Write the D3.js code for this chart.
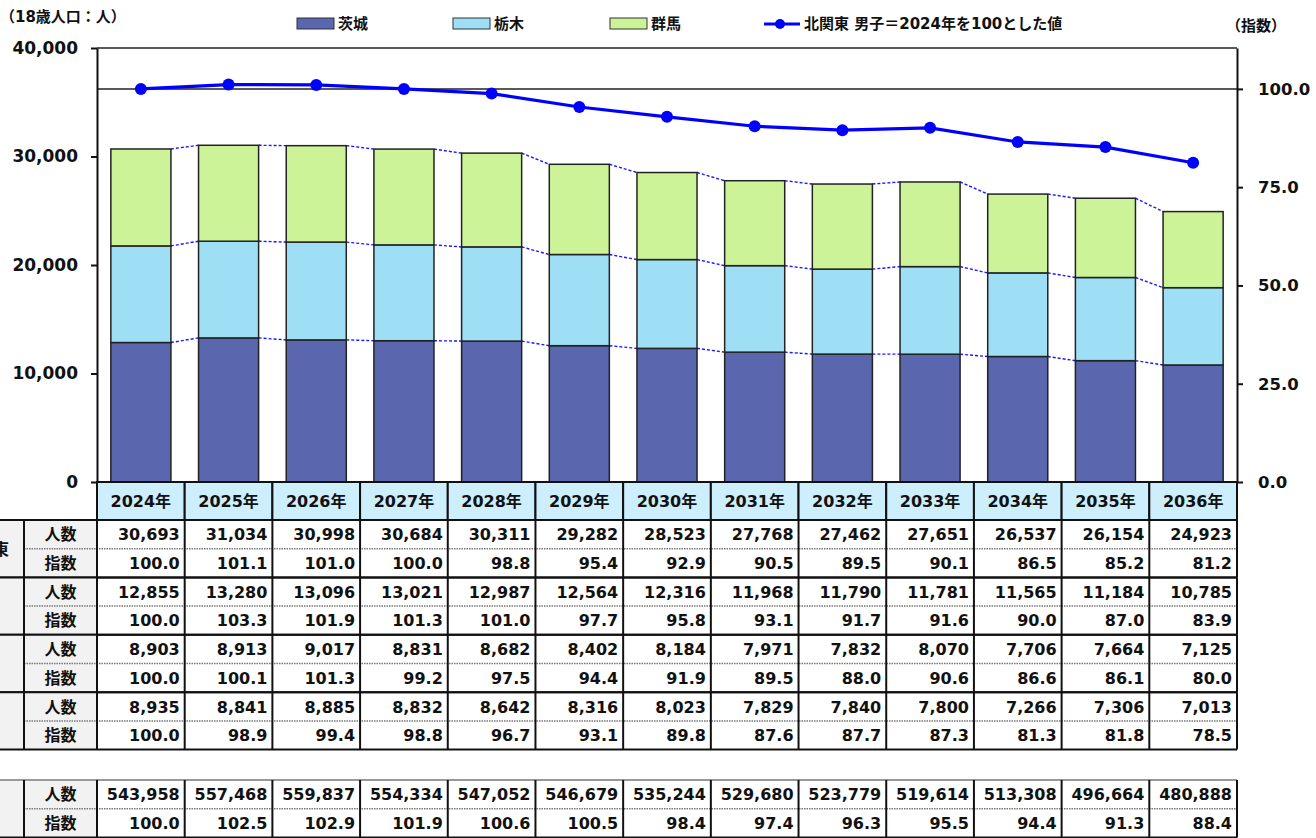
<!DOCTYPE html>
<html lang="ja">
  <head>
    <meta charset="UTF-8" />
    <script src="https://d3js.org/d3.v7.min.js"></script>
    <title>18歳人口 北関東 男子</title>
    <style>
      body { margin: 0; background: #fff; }
      text { font-family: "DejaVu Sans", "Noto Sans CJK JP", sans-serif; font-weight: bold; fill: #111; }
    </style>
  </head>
  <body>
    <svg id="chart" width="1316" height="838"></svg>
  </body>
  <script>
    // data
    var years = ["2024年", "2025年", "2026年", "2027年", "2028年", "2029年", "2030年",
                 "2031年", "2032年", "2033年", "2034年", "2035年", "2036年"];
    var kitaN   = [30693, 31034, 30998, 30684, 30311, 29282, 28523, 27768, 27462, 27651, 26537, 26154, 24923];
    var kitaIdx = [100.0, 101.1, 101.0, 100.0, 98.8, 95.4, 92.9, 90.5, 89.5, 90.1, 86.5, 85.2, 81.2];
    var ibarakiN   = [12855, 13280, 13096, 13021, 12987, 12564, 12316, 11968, 11790, 11781, 11565, 11184, 10785];
    var ibarakiIdx = [100.0, 103.3, 101.9, 101.3, 101.0, 97.7, 95.8, 93.1, 91.7, 91.6, 90.0, 87.0, 83.9];
    var tochigiN   = [8903, 8913, 9017, 8831, 8682, 8402, 8184, 7971, 7832, 8070, 7706, 7664, 7125];
    var tochigiIdx = [100.0, 100.1, 101.3, 99.2, 97.5, 94.4, 91.9, 89.5, 88.0, 90.6, 86.6, 86.1, 80.0];
    var gunmaN   = [8935, 8841, 8885, 8832, 8642, 8316, 8023, 7829, 7840, 7800, 7266, 7306, 7013];
    var gunmaIdx = [100.0, 98.9, 99.4, 98.8, 96.7, 93.1, 89.8, 87.6, 87.7, 87.3, 81.3, 81.8, 78.5];
    var zenkokuN   = [543958, 557468, 559837, 554334, 547052, 546679, 535244, 529680, 523779, 519614, 513308, 496664, 480888];
    var zenkokuIdx = [100.0, 102.5, 102.9, 101.9, 100.6, 100.5, 98.4, 97.4, 96.3, 95.5, 94.4, 91.3, 88.4];

    var seriesNames = ["茨城", "栃木", "群馬"];
    var seriesColors = ["#5a66ae", "#9edff6", "#ccf398"];
    var lineName = "北関東 男子＝2024年を100とした値";

    var svg = d3.select("#chart");
    var plotL = 97, plotR = 1237, plotT = 48, plotB = 482;

    // scales
    var x = d3.scaleBand().domain(years).range([plotL, plotR])
      .paddingInner(0.315).paddingOuter(0.158);
    var col = d3.scaleBand().domain(years).range([plotL, plotR]).padding(0);
    var yL = d3.scaleLinear().domain([0, 40000]).range([plotB, plotT]);
    var yR = d3.scaleLinear().domain([0, 110.4]).range([plotB, plotT]);

    // stacked data
    var rows = years.map(function (y, i) {
      return { year: y, "茨城": ibarakiN[i], "栃木": tochigiN[i], "群馬": gunmaN[i] };
    });
    var stack = d3.stack().keys(seriesNames)(rows);

    // plot frame top line + 100 line
    svg.append("line").attr("x1", plotL).attr("x2", plotR).attr("y1", plotT).attr("y2", plotT)
      .attr("stroke", "#222").attr("stroke-width", 1.5);
    svg.append("line").attr("x1", plotL).attr("x2", plotR).attr("y1", yR(100)).attr("y2", yR(100))
      .attr("stroke", "#222").attr("stroke-width", 1.5);

    // dashed series lines between bars
    stack.forEach(function (s) {
      for (var i = 0; i < years.length - 1; i++) {
        svg.append("line")
          .attr("x1", x(years[i]) + x.bandwidth()).attr("y1", yL(s[i][1]))
          .attr("x2", x(years[i + 1])).attr("y2", yL(s[i + 1][1]))
          .attr("stroke", "#1a1aff").attr("stroke-width", 1.4)
          .attr("stroke-dasharray", "3,2");
      }
    });

    // bars
    svg.append("g").selectAll("g").data(stack).enter().append("g")
      .attr("fill", function (d, i) { return seriesColors[i]; })
      .selectAll("rect").data(function (d) { return d; }).enter().append("rect")
      .attr("x", function (d) { return x(d.data.year); })
      .attr("width", x.bandwidth())
      .attr("y", function (d) { return yL(d[1]); })
      .attr("height", function (d) { return yL(d[0]) - yL(d[1]); })
      .attr("stroke", "#222").attr("stroke-width", 1.5);

    // axes
    var axL = svg.append("g").attr("transform", "translate(" + plotL + ",0)")
      .call(d3.axisLeft(yL).tickValues([0, 10000, 20000, 30000, 40000])
        .tickFormat(d3.format(",")).tickSize(6).tickSizeOuter(0).tickPadding(13));
    var axR = svg.append("g").attr("transform", "translate(" + plotR + ",0)")
      .call(d3.axisRight(yR).tickValues([0, 25, 50, 75, 100])
        .tickFormat(d3.format(".1f")).tickSize(6).tickSizeOuter(0).tickPadding(15));
    [axL, axR].forEach(function (a) {
      a.selectAll("path, line").attr("stroke", "#111").attr("stroke-width", 2);
      a.selectAll("text").attr("font-size", 16.5).attr("font-family", null).style("fill", "#111");
    });
    axL.selectAll("text").attr("font-size", 17);

    // index line
    var line = d3.line()
      .x(function (d, i) { return x(years[i]) + x.bandwidth() / 2; })
      .y(function (d) { return yR(d); });
    svg.append("path").datum(kitaIdx).attr("d", line)
      .attr("fill", "none").attr("stroke", "#0000ff").attr("stroke-width", 3.2);
    svg.append("g").selectAll("circle").data(kitaIdx).enter().append("circle")
      .attr("cx", function (d, i) { return x(years[i]) + x.bandwidth() / 2; })
      .attr("cy", function (d) { return yR(d); })
      .attr("r", 6).attr("fill", "#0000ff");

    // titles
    svg.append("text").attr("x", 0).attr("y", 22).attr("font-size", 15).text("（18歳人口：人）");
    svg.append("text").attr("x", 1226).attr("y", 31).attr("font-size", 15).text("（指数）");

    // legend
    var legX = [297, 453, 610];
    seriesNames.forEach(function (n, i) {
      svg.append("rect").attr("x", legX[i]).attr("y", 18).attr("width", 37).attr("height", 11)
        .attr("fill", seriesColors[i]).attr("stroke", "#333").attr("stroke-width", 1);
      svg.append("text").attr("x", legX[i] + 41).attr("y", 29).attr("font-size", 15).text(n);
    });
    svg.append("line").attr("x1", 764).attr("x2", 800).attr("y1", 24).attr("y2", 24)
      .attr("stroke", "#0000ff").attr("stroke-width", 3);
    svg.append("circle").attr("cx", 780).attr("cy", 24).attr("r", 5).attr("fill", "#0000ff");
    svg.append("text").attr("x", 804).attr("y", 29).attr("font-size", 15).text(lineName);

    // ---------- table ----------
    var rowH = 28.7;
    var headTop = 482, headBot = 520;
    var groups = [
      { label: "北関東", n: kitaN, idx: kitaIdx, y: headBot },
      { label: "茨城", n: ibarakiN, idx: ibarakiIdx, y: headBot + 2 * rowH },
      { label: "栃木", n: tochigiN, idx: tochigiIdx, y: headBot + 4 * rowH },
      { label: "群馬", n: gunmaN, idx: gunmaIdx, y: headBot + 6 * rowH },
      { label: "全国", n: zenkokuN, idx: zenkokuIdx, y: 780 }
    ];
    var fmtN = d3.format(","), fmtI = d3.format(".1f");
    var tbl = svg.append("g");

    // header row
    tbl.selectAll("rect.head").data(years).enter().append("rect")
      .attr("x", function (d) { return col(d); }).attr("y", headTop)
      .attr("width", col.bandwidth()).attr("height", headBot - headTop)
      .attr("fill", "#cdeefc").attr("stroke", "#111").attr("stroke-width", 2);
    tbl.selectAll("text.head").data(years).enter().append("text")
      .attr("x", function (d) { return col(d) + col.bandwidth() / 2; })
      .attr("y", (headTop + headBot) / 2 + 6).attr("text-anchor", "middle")
      .attr("font-size", 16).text(function (d) { return d; });

    groups.forEach(function (g, gi) {
      var gTop = g.y, gBot = g.y + 2 * rowH;
      // label columns
      tbl.append("rect").attr("x", -2).attr("y", gTop).attr("width", 26).attr("height", gBot - gTop)
        .attr("fill", "#f2f2f2");
      tbl.append("rect").attr("x", 24).attr("y", gTop).attr("width", plotL - 24).attr("height", gBot - gTop)
        .attr("fill", "#f2f2f2");
      if (gi === 0) {
        // group label column is cut at the left edge in the source
        tbl.append("text").attr("x", 9).attr("y", (gTop + gBot) / 2 + 6)
          .attr("text-anchor", "end").attr("font-size", 16).text(g.label);
      }
      ["人数", "指数"].forEach(function (s, k) {
        tbl.append("text").attr("x", (24 + plotL) / 2).attr("y", gTop + rowH * k + rowH / 2 + 6)
          .attr("text-anchor", "middle").attr("font-size", 16).text(s);
      });
      // values
      years.forEach(function (y, i) {
        tbl.append("text").attr("x", col(y) + col.bandwidth() - 5).attr("y", gTop + rowH / 2 + 6)
          .attr("text-anchor", "end").attr("font-size", 16).text(fmtN(g.n[i]));
        tbl.append("text").attr("x", col(y) + col.bandwidth() - 5).attr("y", gTop + rowH * 1.5 + 6)
          .attr("text-anchor", "end").attr("font-size", 16).text(fmtI(g.idx[i]));
      });
      // dotted separator
      tbl.append("line").attr("x1", 24).attr("x2", plotR).attr("y1", gTop + rowH).attr("y2", gTop + rowH)
        .attr("stroke", "#777").attr("stroke-width", 1.5).attr("stroke-dasharray", "1.5,1");
      // horizontal borders
      tbl.append("line").attr("x1", 0).attr("x2", plotR).attr("y1", gTop).attr("y2", gTop)
        .attr("stroke", gi === 4 ? "#999" : "#111").attr("stroke-width", 2);
      tbl.append("line").attr("x1", 0).attr("x2", plotR).attr("y1", gBot).attr("y2", gBot)
        .attr("stroke", "#111").attr("stroke-width", 2);
      // vertical borders
      var xs = [24, plotL].concat(years.map(function (y) { return col(y) + col.bandwidth(); }));
      xs.forEach(function (vx) {
        tbl.append("line").attr("x1", vx).attr("x2", vx).attr("y1", gTop).attr("y2", gBot)
          .attr("stroke", "#111").attr("stroke-width", 2);
      });
    });
  </script>
</html>
